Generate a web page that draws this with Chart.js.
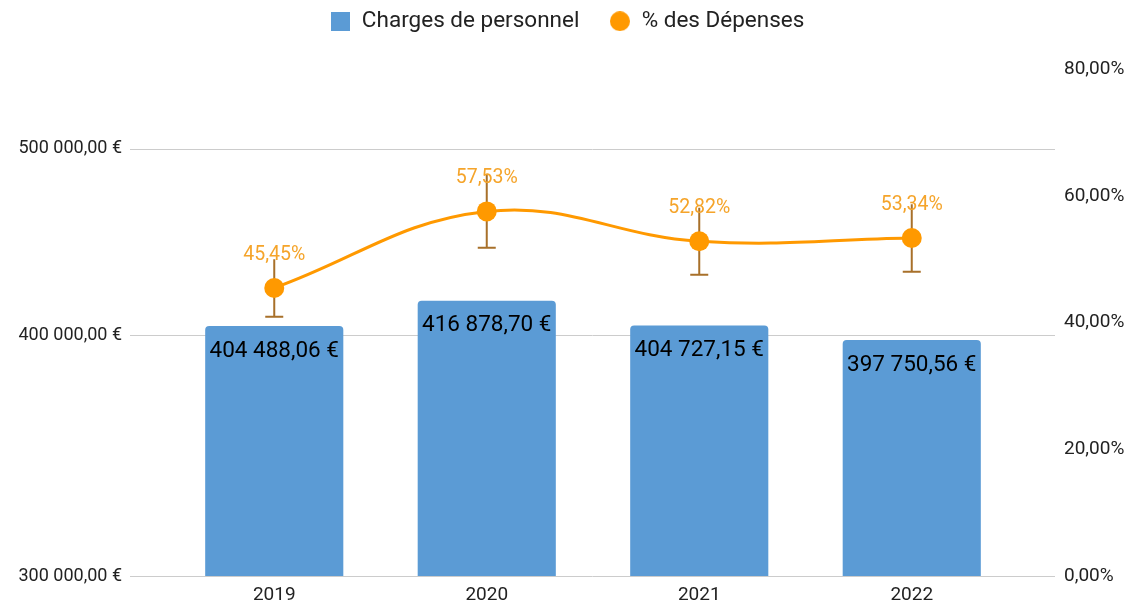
<!DOCTYPE html>
<html><head><meta charset="utf-8">
<script src="https://cdn.jsdelivr.net/npm/chart.js@4.4.0/dist/chart.umd.min.js"></script>
<style>html,body{margin:0;padding:0;background:#fff}#wrap{width:1130px;height:605px;position:relative}</style>
</head><body><div id="wrap"><canvas id="c"></canvas></div>
<script>
const categories = ['2019', '2020', '2021', '2022'];
const charges = [404488.06, 416878.70, 404727.15, 397750.56];
const pctDepenses = [45.45, 57.53, 52.82, 53.34];
const errorPercent = 10;
const leftTicks = [300000, 400000, 500000];
const rightTicks = [0, 20, 40, 60, 80];

const FONT = 'Roboto, "Noto Sans", sans-serif';
const BLUE = '#5b9bd5';
const ORANGE = '#ff9900';
const LABEL_ORANGE = '#f5a42a';
const ERR = '#a8702a';

function fmtEuro(v) {
  const s = v.toFixed(2).split('.');
  const i = s[0].replace(/\B(?=(\d{3})+(?!\d))/g, ' ');
  return i + ',' + s[1] + ' €';
}
function fmtPct(v) { return v.toFixed(2).replace('.', ',') + '%'; }

function mkIcon(kind, size, color) {
  const c = document.createElement('canvas');
  c.width = size; c.height = size;
  const g = c.getContext('2d');
  g.fillStyle = color;
  if (kind === 'rect') g.fillRect(0, 0, size, size);
  else { g.beginPath(); g.arc(size / 2, size / 2, size / 2, 0, Math.PI * 2); g.fill(); }
  return c;
}
const iconRect = mkIcon('rect', 19, BLUE);
const iconCircle = mkIcon('circle', 20, ORANGE);

const legendShift = {
  id: 'legendShift',
  afterLayout(chart) {
    const lg = chart.legend;
    if (lg) { lg.top -= 26.5; lg.bottom -= 26.5; lg.left += 2; lg.right += 2; }
  }
};

const gridPlugin = {
  id: 'grid',
  beforeDatasetsDraw(chart) {
    const y = chart.scales.y, ctx = chart.ctx;
    ctx.save();
    ctx.strokeStyle = '#cccccc';
    ctx.lineWidth = 1;
    leftTicks.forEach(v => {
      const py = Math.round(y.getPixelForValue(v)) + 0.5;
      ctx.beginPath(); ctx.moveTo(130, py); ctx.lineTo(1055, py); ctx.stroke();
    });
    ctx.restore();
  }
};

const errPlugin = {
  id: 'errbars',
  beforeDatasetDraw(chart, args) {
    if (args.index !== 1) return;
    const y2 = chart.scales.y2, ctx = chart.ctx;
    const meta = chart.getDatasetMeta(1);
    ctx.save();
    ctx.strokeStyle = ERR; ctx.lineWidth = 2;
    meta.data.forEach((pt, i) => {
      const v = pctDepenses[i], e = v * errorPercent / 100;
      const top = y2.getPixelForValue(v + e), bot = y2.getPixelForValue(v - e);
      ctx.beginPath();
      ctx.moveTo(pt.x, top); ctx.lineTo(pt.x, bot);
      ctx.moveTo(pt.x - 9, bot); ctx.lineTo(pt.x + 9, bot);
      ctx.stroke();
    });
    ctx.restore();
  }
};

const labelPlugin = {
  id: 'labels',
  afterDatasetsDraw(chart) {
    const ctx = chart.ctx;
    ctx.save();
    ctx.textAlign = 'center'; ctx.textBaseline = 'middle';
    const bm = chart.getDatasetMeta(0);
    ctx.fillStyle = '#000';
    ctx.font = '22.5px ' + FONT;
    bm.data.forEach((b, i) => ctx.fillText(fmtEuro(charges[i]), b.x, b.y + 25));
    const lm = chart.getDatasetMeta(1);
    ctx.fillStyle = LABEL_ORANGE;
    ctx.font = '19.5px ' + FONT;
    lm.data.forEach((p, i) => ctx.fillText(fmtPct(pctDepenses[i]), p.x, p.y - 33));
    ctx.restore();
  }
};

new Chart(document.getElementById('c'), {
  data: {
    labels: categories,
    datasets: [
      {
        type: 'bar', label: 'Charges de personnel', data: charges, yAxisID: 'y',
        backgroundColor: BLUE, barPercentage: 0.65, categoryPercentage: 1,
        borderRadius: { topLeft: 4, topRight: 4 }, borderSkipped: 'start', order: 2
      },
      {
        type: 'line', label: '% des Dépenses', data: pctDepenses, yAxisID: 'y2',
        borderColor: ORANGE, backgroundColor: ORANGE, borderWidth: 3,
        pointRadius: 10, pointHoverRadius: 10, pointBackgroundColor: ORANGE, pointBorderWidth: 0,
        tension: 0.4, order: 1
      }
    ]
  },
  options: {
    responsive: true, maintainAspectRatio: false, animation: false,
    layout: { padding: { top: 0, left: 0, right: 0, bottom: 0 } },
    plugins: {
      tooltip: { enabled: false },
      legend: {
        position: 'top',
        labels: {
          usePointStyle: true, boxWidth: 21, boxHeight: 19, padding: 30,
          font: { family: FONT, size: 22.5 }, color: '#222',
          generateLabels(chart) {
            return chart.data.datasets.map((d, i) => ({
              text: d.label, pointStyle: i === 0 ? iconRect : iconCircle,
              fillStyle: i === 0 ? BLUE : ORANGE, strokeStyle: 'transparent', lineWidth: 0,
              datasetIndex: i, hidden: false, fontColor: '#222'
            }));
          }
        }
      }
    },
    scales: {
      x: {
        grid: { display: false, drawTicks: false }, border: { display: false },
        ticks: { font: { family: FONT, size: 19 }, color: '#222', padding: 8 },
        afterFit(s) { s.height = 29; }
      },
      y: {
        type: 'logarithmic', position: 'left', min: 300000, max: 550000,
        grid: { display: false, drawTicks: false }, border: { display: false },
        afterBuildTicks(s) { s.ticks = leftTicks.map(v => ({ value: v })); },
        ticks: { font: { family: FONT, size: 18 }, color: '#222', padding: 46, callback: v => fmtEuro(v) },
        afterFit(s) { s.width = 168; s.paddingTop = 69; s.paddingBottom = 0; }
      },
      y2: {
        type: 'linear', position: 'right', min: 0, max: 80,
        grid: { display: false, drawTicks: false }, border: { display: false },
        afterBuildTicks(s) { s.ticks = rightTicks.map(v => ({ value: v })); },
        ticks: { font: { family: FONT, size: 19 }, color: '#222', padding: 46, callback: v => fmtPct(v) },
        afterFit(s) { s.width = 112; s.paddingTop = 69; s.paddingBottom = 0; }
      }
    }
  },
  plugins: [legendShift, gridPlugin, errPlugin, labelPlugin]
});
</script>
</body></html>
